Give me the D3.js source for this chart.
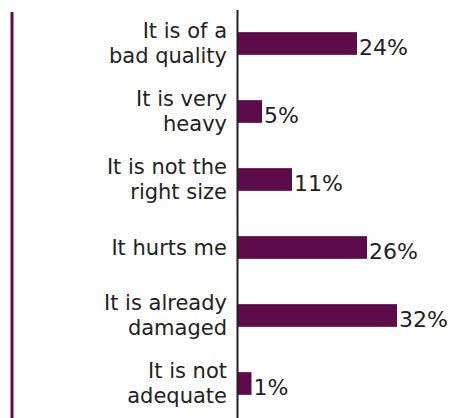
<!DOCTYPE html>
<html>
<head>
<meta charset="utf-8">
<script src="https://cdn.jsdelivr.net/npm/d3@7"></script>
<style>
  body { margin: 0; background: #fff; }
  text { font-family: "DejaVu Sans", sans-serif; fill: #222; }
</style>
</head>
<body>
<svg id="chart"></svg>
<script>
// data
var categories = [
    "It is of a|bad quality",
    "It is very|heavy",
    "It is not the|right size",
    "It hurts me",
    "It is already|damaged",
    "It is not|adequate"
];
var values = [24, 5, 11, 26, 32, 1];
var valueLabels = ["24%", "5%", "11%", "26%", "32%", "1%"];

var width = 451, height = 418;
var barColor = "#5d0b49";

var svg = d3.select("#chart")
    .attr("width", width)
    .attr("height", height);

var x = d3.scaleLinear()
    .domain([0, 32])
    .range([237, 397]);

var y = d3.scaleBand()
    .domain(categories)
    .range([9.5, 417.5])
    .paddingInner(0.666)
    .paddingOuter(0.333);

// purple rule on the left
svg.append("rect")
    .attr("x", 10.5)
    .attr("y", 12)
    .attr("width", 3)
    .attr("height", height - 12)
    .style("fill", barColor);

var data = categories.map(function (c, i) {
    return {category: c, value: values[i], label: valueLabels[i]};
});

// bars (tiny values get a small minimum length like the original)
svg.selectAll(".bar")
    .data(data)
    .enter().append("rect")
    .attr("class", "bar")
    .attr("x", x(0))
    .attr("y", function (d) { return y(d.category); })
    .attr("width", function (d) { return Math.max(x(d.value) - x(0), 14.5); })
    .attr("height", y.bandwidth())
    .style("fill", barColor);

// value labels
svg.selectAll(".value")
    .data(data)
    .enter().append("text")
    .attr("class", "value")
    .attr("x", function (d) { return x(0) + Math.max(x(d.value) - x(0), 14.5) + 2; })
    .attr("y", function (d) { return y(d.category) + y.bandwidth(); })
    .style("font-size", "22px")
    .text(function (d) { return d.label; });

// category labels, right aligned, possibly two lines
var lineHeight = 25;
var cat = svg.selectAll(".cat")
    .data(data)
    .enter().append("text")
    .attr("class", "cat")
    .attr("text-anchor", "end")
    .style("font-size", "21px");

cat.each(function (d) {
    var lines = d.category.split("|");
    var cy = y(d.category) + y.bandwidth() / 2;
    var first = cy - (lines.length - 1) * lineHeight / 2 + 7;
    var t = d3.select(this);
    lines.forEach(function (l, i) {
        t.append("tspan")
            .attr("x", 227)
            .attr("y", first + i * lineHeight)
            .text(l);
    });
});

// axis line
var yAxis = d3.axisLeft(y).tickSize(0).tickFormat("");
svg.append("g")
    .attr("class", "y-axis")
    .attr("transform", "translate(" + x(0) + ",0)")
    .call(yAxis)
    .select(".domain")
    .attr("stroke", "#222")
    .attr("stroke-width", 2);
</script>
</body>
</html>
